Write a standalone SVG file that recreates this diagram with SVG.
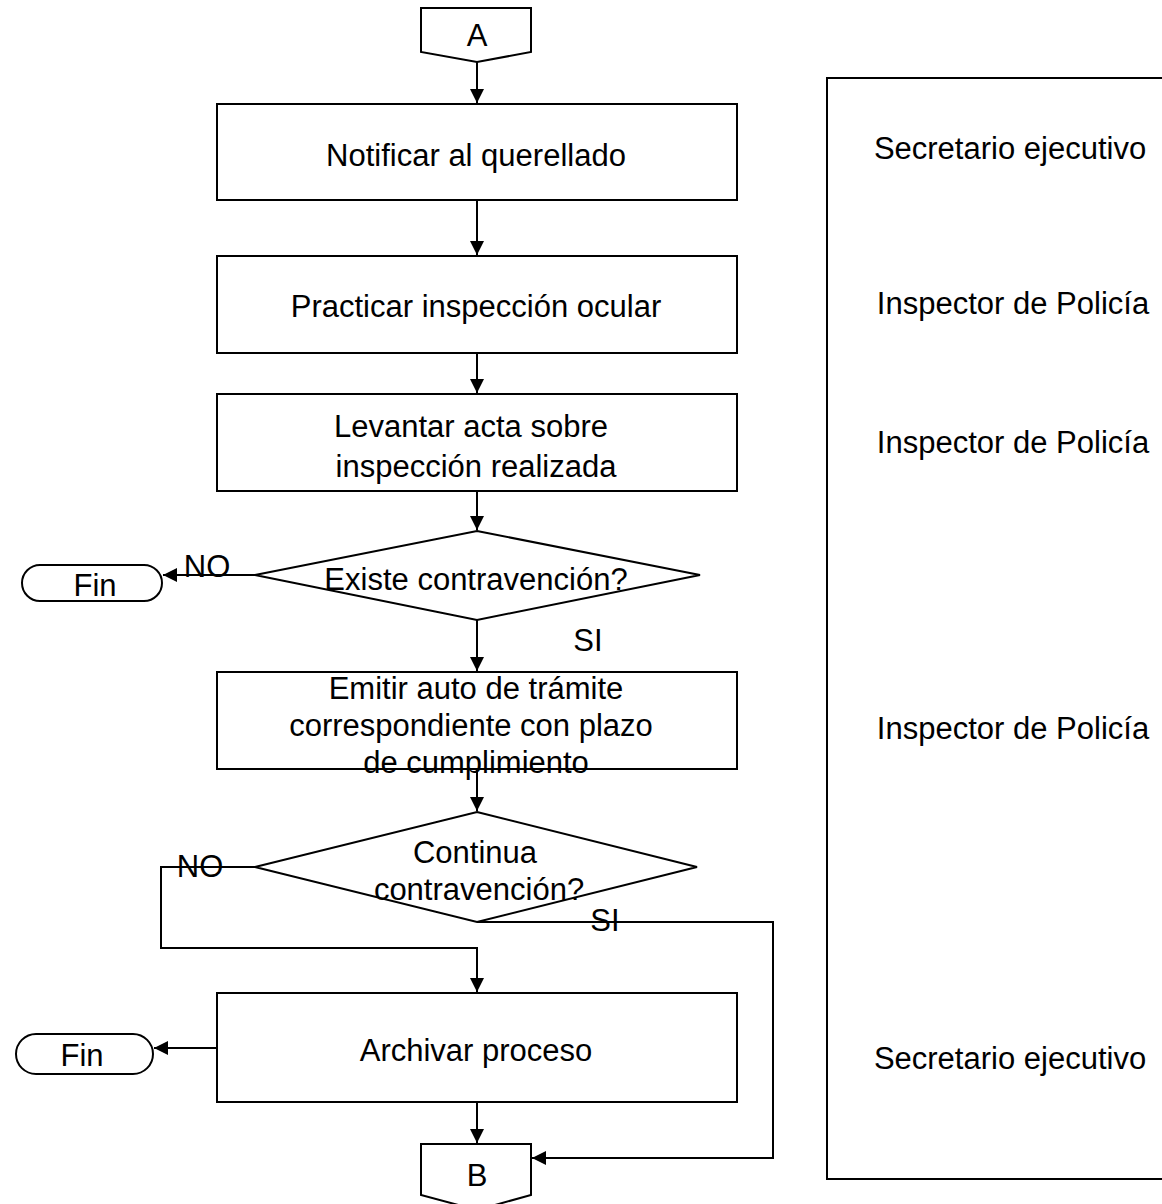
<svg xmlns="http://www.w3.org/2000/svg" width="1162" height="1204" viewBox="0 0 1162 1204">
<defs>
<marker id="ah" viewBox="0 0 14 14" refX="14" refY="7" markerWidth="14" markerHeight="14" markerUnits="userSpaceOnUse" orient="auto"><path d="M0,0 L14,7 L0,14 z" fill="#000"/></marker>
<style>
.s{fill:#fff;stroke:#000;stroke-width:2}
.c{fill:none;stroke:#000;stroke-width:2}
text{font-family:"Liberation Sans",Arial,sans-serif;font-size:31px;fill:#000}
.m{text-anchor:middle;dominant-baseline:central}
</style>
</defs>
<rect width="1162" height="1204" fill="#fff"/>
<g id="lanes">
<rect x="827" y="78" width="345" height="1101" class="s" stroke-width="3"/>
<text x="1010" y="148" class="m">Secretario ejecutivo</text>
<text x="1013" y="303" class="m">Inspector de Policía</text>
<text x="1013" y="442" class="m">Inspector de Policía</text>
<text x="1013" y="728" class="m">Inspector de Policía</text>
<text x="1010" y="1058" class="m">Secretario ejecutivo</text>
</g>
<g id="connectors">
<path d="M477,62 V103" class="c" marker-end="url(#ah)"/>
<path d="M477,200 V255" class="c" marker-end="url(#ah)"/>
<path d="M477,353 V393" class="c" marker-end="url(#ah)"/>
<path d="M477,491 V530" class="c" marker-end="url(#ah)"/>
<path d="M255,575 H163" class="c" marker-end="url(#ah)"/>
<path d="M477,620 V671" class="c" marker-end="url(#ah)"/>
<path d="M477,769 V811" class="c" marker-end="url(#ah)"/>
<path d="M255,867 H161 V948 H477 V992" class="c" marker-end="url(#ah)"/>
<path d="M477,922 H773 V1158 H532" class="c" marker-end="url(#ah)"/>
<path d="M217,1048 H154" class="c" marker-end="url(#ah)"/>
<path d="M477,1102 V1143" class="c" marker-end="url(#ah)"/>
<text x="207" y="566" class="m">NO</text>
<text x="588" y="640" class="m">SI</text>
<text x="200" y="866" class="m">NO</text>
<text x="605" y="920" class="m">SI</text>
</g>
<g id="nodeA">
<path d="M421,8 H531 V52 L477,62 L421,52 Z" class="s"/>
<text x="477" y="35" class="m">A</text>
</g>
<g id="n1">
<rect x="217" y="104" width="520" height="96" class="s"/>
<text x="476" y="155" class="m">Notificar al querellado</text>
</g>
<g id="n2">
<rect x="217" y="256" width="520" height="97" class="s"/>
<text x="476" y="306" class="m">Practicar inspección ocular</text>
</g>
<g id="n3">
<rect x="217" y="394" width="520" height="97" class="s"/>
<text x="471" y="426" class="m">Levantar acta sobre</text>
<text x="476" y="466" class="m">inspección realizada</text>
</g>
<g id="d1">
<path d="M477,531 L700,575 L477,620 L255,575 Z" class="s"/>
<text x="476" y="579" class="m">Existe contravención?</text>
</g>
<g id="fin1">
<rect x="22" y="565" width="140" height="36" rx="18" class="s"/>
<text x="95" y="585" class="m">Fin</text>
</g>
<g id="n4">
<rect x="217" y="672" width="520" height="97" class="s"/>
<text x="476" y="688" class="m">Emitir auto de trámite</text>
<text x="471" y="725" class="m">correspondiente con plazo</text>
<text x="476" y="762" class="m">de cumplimiento</text>
</g>
<g id="d2">
<path d="M477,812 L697,867 L477,922 L255,867 Z" class="s"/>
<text x="475" y="852" class="m">Continua</text>
<text x="479" y="889" class="m">contravención?</text>
</g>
<g id="n5">
<rect x="217" y="993" width="520" height="109" class="s"/>
<text x="476" y="1050" class="m">Archivar proceso</text>
</g>
<g id="fin2">
<rect x="16" y="1034" width="137" height="40" rx="20" class="s"/>
<text x="82" y="1055" class="m">Fin</text>
</g>
<g id="nodeB">
<path d="M421,1144 H531 V1195 L477,1210 L421,1195 Z" class="s"/>
<text x="477" y="1175" class="m">B</text>
</g>
</svg>
